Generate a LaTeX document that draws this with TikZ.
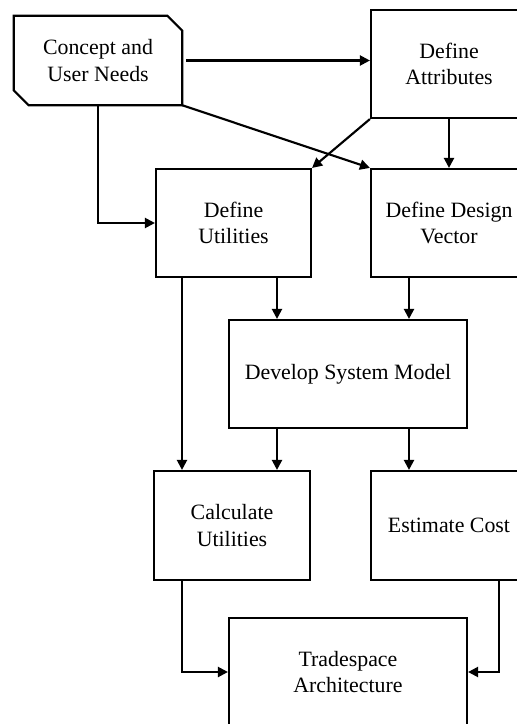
\documentclass[tikz,border=0pt]{standalone}
\usepackage{fontspec}
\setmainfont{Liberation Serif}
\usetikzlibrary{arrows.meta,calc}

\tikzset{
  box/.style={draw, line width=1.6pt, align=center, inner sep=0pt,
    font=\fontsize{16.4}{20}\selectfont},
  plain/.style={align=center, inner sep=0pt, font=\fontsize{16.4}{20}\selectfont},
  arr/.style={line width=1.6pt, -{Triangle[length=7.5pt,width=7.5pt]}},
}

\begin{document}
\begin{tikzpicture}[x=0.75pt, y=-0.75pt]
  \clip (0,0) rectangle (517,724);
  \fill[white] (0,0) rectangle (517,724);

  % starting block with two cut corners
  \node[plain, minimum width=126pt, minimum height=66.75pt] (con) at (98,60.5) {Concept and\\User Needs};
  \draw[line width=1.6pt, line join=miter]
    (con.north west) -- ($(con.north east)+(-15,0)$) -- ($(con.north east)+(0,15)$)
    -- (con.south east) -- ($(con.south west)+(15,0)$) -- ($(con.south west)+(0,-15)$) -- cycle;

  % process blocks
  \node[box, minimum width=117pt, minimum height=81pt] (attr) at (449,64) {Define\\Attributes};
  \node[box, minimum width=116.25pt, minimum height=81pt] (util) at (233.5,223) {Define\\Utilities};
  \node[box, minimum width=117pt, minimum height=81pt] (ddv) at (449,223) {Define Design\\Vector};
  \node[box, minimum width=178.5pt, minimum height=81pt] (dsm) at (348,374) {Develop System Model};
  \node[box, minimum width=117pt, minimum height=81.75pt] (calc) at (232,525.5) {Calculate\\Utilities};
  \node[box, minimum width=117pt, minimum height=81.75pt] (est) at (449,525.5) {Estimate Cost};
  \node[box, minimum width=178.5pt, minimum height=81pt] (trade) at (348,672) {Tradespace\\Architecture};

  % connector columns
  \coordinate (k0) at (98,0);
  \coordinate (k1) at (182,0);
  \coordinate (k2) at (277,0);
  \coordinate (k3) at (409,0);
  \coordinate (k4) at (449,0);
  \coordinate (k5) at (499,0);

  % connectors
  \draw[arr, shorten <=3pt] (con.east) -- (attr.west |- con.east);
  \draw[arr] (con.south -| k0) |- (util.west);
  \draw[arr] (con.south east) -- (ddv.north west);
  \draw[arr] (attr.south west) -- (util.north east);
  \draw[arr] (attr.south -| k4) -- (ddv.north -| k4);
  \draw[arr] (util.south -| k1) -- (calc.north -| k1);
  \draw[arr] (util.south -| k2) -- (dsm.north -| k2);
  \draw[arr] (ddv.south -| k3) -- (dsm.north -| k3);
  \draw[arr] (dsm.south -| k2) -- (calc.north -| k2);
  \draw[arr] (dsm.south -| k3) -- (est.north -| k3);
  \draw[arr] (calc.south -| k1) |- (trade.west);
  \draw[arr] (est.south -| k5) |- (trade.east);
\end{tikzpicture}
\end{document}
